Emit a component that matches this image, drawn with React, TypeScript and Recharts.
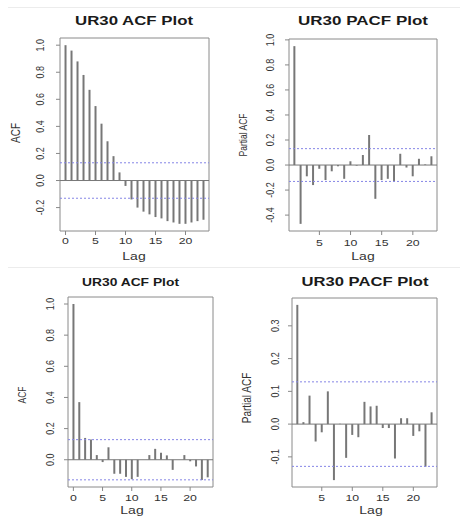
import React from "react";
import { BarChart, Bar, XAxis, YAxis, ReferenceLine, ReferenceArea } from "recharts";

const FONT = '"Liberation Sans", Arial, Helvetica, sans-serif';

// lags
const acfLags = [0, 1, 2, 3, 4, 5, 6, 7, 8, 9, 10, 11, 12, 13, 14, 15, 16, 17, 18, 19, 20, 21, 22, 23];
const pacfLags = [1, 2, 3, 4, 5, 6, 7, 8, 9, 10, 11, 12, 13, 14, 15, 16, 17, 18, 19, 20, 21, 22, 23];

// values
const acfTop = [1.0, 0.96, 0.88, 0.78, 0.67, 0.55, 0.42, 0.29, 0.18, 0.06, -0.04, -0.14, -0.2, -0.23, -0.25, -0.27, -0.28, -0.3, -0.31, -0.32, -0.32, -0.31, -0.3, -0.29];
const pacfTop = [0.95, -0.47, -0.09, -0.16, -0.03, -0.12, -0.05, -0.01, -0.11, 0.03, -0.005, 0.08, 0.24, -0.27, -0.12, -0.11, -0.13, 0.09, -0.02, -0.09, 0.05, 0.005, 0.07];
const acfBottom = [1.0, 0.37, 0.14, 0.13, 0.03, -0.015, 0.08, -0.09, -0.09, -0.11, -0.125, -0.11, 0.0, 0.03, 0.07, 0.045, 0.028, -0.065, 0.0, 0.03, -0.01, -0.043, -0.13, -0.113];
const pacfBottom = [0.364, 0.006, 0.087, -0.053, -0.025, 0.1, -0.171, 0.001, -0.103, -0.033, -0.04, 0.068, 0.054, 0.056, -0.012, -0.012, -0.105, 0.018, 0.018, -0.036, -0.022, -0.13, 0.036];

// tick labels
const acfXTicks = [0, 5, 10, 15, 20];
const pacfXTicks = [5, 10, 15, 20];
const acfTopYTicks = [-0.2, 0, 0.2, 0.4, 0.6, 0.8, 1.0];
const pacfTopYTicks = [-0.4, -0.2, 0, 0.2, 0.4, 0.6, 0.8, 1.0];
const acfBottomYTicks = [0, 0.2, 0.4, 0.6, 0.8, 1.0];
const pacfBottomYTicks = [-0.1, 0, 0.1, 0.2, 0.3];

const AXW = 40;
const AXH = 24;
const PADT = 10;
const PADR = 2;

type PanelProps = {
  lags: number[];
  values: number[];
  box: [number, number, number, number];
  xDomain: [number, number];
  yDomain: [number, number];
  xTicks: number[];
  yTicks: number[];
  ci: number;
  xTickBase: number;
  yTickCx: number;
};

function Panel(p: PanelProps) {
  const [x0, y0, x1, y1] = p.box;
  const left = x0 - AXW;
  const top = y0 - PADT;
  const w = x1 - x0 + AXW + PADR;
  const h = y1 - y0 + PADT + AXH;
  const data = p.lags.map((lag, i) => ({ lag, value: p.values[i] }));

  const xTick = (t: any) => (
    <text
      transform={`translate(${t.x},${p.xTickBase - top}) scale(1.45,1)`}
      textAnchor="middle"
      fontSize={8.5}
      fill="#333"
      fontFamily={FONT}
    >
      {t.payload.value}
    </text>
  );
  const yTick = (t: any) => (
    <text
      transform={`translate(${p.yTickCx - left},${t.y}) scale(1.15,1) rotate(-90)`}
      y={3.2}
      textAnchor="middle"
      fontSize={9}
      fill="#333"
      fontFamily={FONT}
    >
      {Number(t.payload.value).toFixed(1)}
    </text>
  );

  return (
    <div style={{ position: "absolute", left, top }}>
      <BarChart width={w} height={h} data={data} margin={{ top: PADT, right: PADR, bottom: 0, left: 0 }}>
        <XAxis
          type="number"
          dataKey="lag"
          domain={p.xDomain}
          ticks={p.xTicks}
          interval={0}
          allowDataOverflow
          height={AXH}
          axisLine={false}
          tickLine={{ stroke: "#888" }}
          tickSize={4}
          tick={xTick}
        />
        <YAxis
          type="number"
          domain={p.yDomain}
          ticks={p.yTicks}
          interval={0}
          allowDataOverflow
          width={AXW}
          axisLine={false}
          tickLine={{ stroke: "#888" }}
          tickSize={4}
          tick={yTick}
        />
        <ReferenceLine y={0} stroke="#777" />
        <ReferenceLine y={p.ci} stroke="#8585e6" strokeDasharray="2 2" />
        <ReferenceLine y={-p.ci} stroke="#8585e6" strokeDasharray="2 2" />
        <Bar dataKey="value" fill="#777" barSize={2} isAnimationActive={false} />
        <ReferenceArea
          x1={p.xDomain[0]}
          x2={p.xDomain[1]}
          y1={p.yDomain[0]}
          y2={p.yDomain[1]}
          fill="none"
          fillOpacity={0}
          stroke="#8a8a8a"
        />
      </BarChart>
    </div>
  );
}

const HText = ({ cx, y, size, sx = 1.4, bold = false, len, children }: any) => (
  <text
    transform={len ? undefined : `translate(${cx},${y}) scale(${sx},1)`}
    x={len ? cx : 0}
    y={len ? y : 0}
    textAnchor="middle"
    fontSize={size}
    fontWeight={bold ? "bold" : "normal"}
    fill={bold ? "#1a1a1a" : "#333"}
    fontFamily={FONT}
    textLength={len}
    lengthAdjust={len ? "spacingAndGlyphs" : undefined}
  >
    {children}
  </text>
);

const VText = ({ cx, cy, size, sx = 1.3, children }: any) => (
  <text
    transform={`translate(${cx},${cy}) scale(${sx},1) rotate(-90)`}
    y={size * 0.36}
    textAnchor="middle"
    fontSize={size}
    fill="#333"
    fontFamily={FONT}
  >
    {children}
  </text>
);

export default function App() {
  return (
    <div style={{ position: "absolute", left: 0, top: 0, width: 460, height: 517, background: "#fff", overflow: "hidden" }}>
      <svg width={460} height={517} style={{ position: "absolute", left: 0, top: 0, pointerEvents: "none" }}>
        <line x1={8} x2={460} y1={7.5} y2={7.5} stroke="#ececec" />
        <line x1={8} x2={460} y1={267.5} y2={267.5} stroke="#ececec" />

        <HText cx={134} y={25} size={12} bold len={118}>UR30 ACF Plot</HText>
        <HText cx={363} y={25} size={12} bold len={130}>UR30 PACF Plot</HText>
        <HText cx={130.5} y={285.5} size={11.5} bold len={97}>UR30 ACF Plot</HText>
        <HText cx={365} y={286} size={12} bold len={127}>UR30 PACF Plot</HText>

        <HText cx={134} y={259.5} size={10}>Lag</HText>
        <HText cx={363} y={259.5} size={10}>Lag</HText>
        <HText cx={132} y={513.5} size={10}>Lag</HText>
        <HText cx={371} y={513.5} size={10}>Lag</HText>

        <VText cx={15} cy={133} size={10}>ACF</VText>
        <VText cx={243} cy={135} size={8.5}>Partial ACF</VText>
        <VText cx={22.5} cy={395} size={8.5}>ACF</VText>
        <VText cx={246} cy={398} size={10}>Partial ACF</VText>
      </svg>

      <Panel lags={acfLags} values={acfTop} box={[60, 38, 209, 231]} xDomain={[-0.92, 23.92]} yDomain={[-0.373, 1.053]}
        xTicks={acfXTicks} yTicks={acfTopYTicks} ci={0.131} xTickBase={244} yTickCx={40} />
      <Panel lags={pacfLags} values={pacfTop} box={[289, 39, 437, 231]} xDomain={[0.12, 23.88]} yDomain={[-0.527, 1.007]}
        xTicks={pacfXTicks} yTicks={pacfTopYTicks} ci={0.131} xTickBase={245.5} yTickCx={270.5} />
      <Panel lags={acfLags} values={acfBottom} box={[68, 297, 213, 487]} xDomain={[-0.92, 23.92]} yDomain={[-0.175, 1.045]}
        xTicks={acfXTicks} yTicks={acfBottomYTicks} ci={0.129} xTickBase={500.5} yTickCx={50} />
      <Panel lags={pacfLags} values={pacfBottom} box={[292, 298, 437, 487]} xDomain={[0.12, 23.88]} yDomain={[-0.192, 0.385]}
        xTicks={pacfXTicks} yTicks={pacfBottomYTicks} ci={0.129} xTickBase={500.5} yTickCx={275} />
    </div>
  );
}
